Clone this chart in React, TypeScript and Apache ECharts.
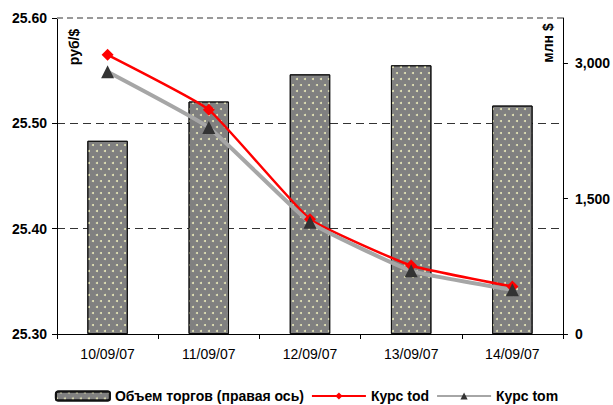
import React, { useEffect, useRef } from "react";
import * as echarts from "echarts";

const categories = ["10/09/07", "11/09/07", "12/09/07", "13/09/07", "14/09/07"];
const volumeValues = [2140, 2575, 2876, 2976, 2530];
const todValues = [25.565, 25.513, 25.409, 25.365, 25.345];
const tomValues = [25.549, 25.496, 25.406, 25.36, 25.342];
const rightTickValues = [0, 1500, 3000];

const seriesNames = ["Объем торгов (правая ось)", "Курс tod", "Курс tom"];

export default function App() {
  const ref = useRef<HTMLDivElement>(null);
  useEffect(() => {
    if (!ref.current) return;
    const chart = echarts.init(ref.current, null, { renderer: "svg" });
    const font = "'Liberation Sans', Arial, sans-serif";
    chart.setOption({
      animation: false,
      textStyle: { fontFamily: font },
      grid: { left: 57, right: 50, top: 18, bottom: 71, containLabel: false },
      legend: {
        top: 389,
        left: "center",
        padding: 0,
        itemWidth: 54,
        itemHeight: 9,
        itemGap: 7,
        textStyle: { fontSize: 14, fontWeight: "bold", color: "#000", fontFamily: font },
        data: seriesNames,
      },
      xAxis: {
        type: "category",
        data: categories,
        boundaryGap: true,
        axisLine: { show: true, lineStyle: { color: "#000", width: 1 } },
        axisTick: { show: true, interval: 0, length: 5, lineStyle: { color: "#000" } },
        axisLabel: { fontSize: 14, color: "#000", margin: 13, fontFamily: font },
      },
      yAxis: [
        {
          type: "value",
          min: 25.3,
          max: 25.6,
          interval: 0.1,
          position: "left",
          axisLine: { show: true, lineStyle: { color: "#000", width: 1 } },
          axisTick: { show: true, length: 5, lineStyle: { color: "#000" } },
          axisLabel: {
            fontSize: 14,
            fontWeight: "bold",
            color: "#000",
            margin: 10,
            fontFamily: font,
            formatter: (v: number) => v.toFixed(2),
          },
          splitLine: {
            show: true,
            lineStyle: { color: ["#333", "#333", "#333", "rgba(0,0,0,0)"], type: [8, 5], width: 1 },
          },
        },
        {
          type: "value",
          min: 0,
          max: 3500,
          interval: 1500,
          position: "right",
          axisLine: { show: true, lineStyle: { color: "#000", width: 1 } },
          axisTick: { show: true, length: 5, customValues: rightTickValues, lineStyle: { color: "#000" } },
          axisLabel: {
            fontSize: 14,
            fontWeight: "bold",
            color: "#000",
            margin: 12,
            fontFamily: font,
            customValues: rightTickValues,
            formatter: (v: number) => v.toLocaleString("en-US"),
          },
          splitLine: { show: false },
        },
      ],
      series: [
        {
          name: seriesNames[0],
          type: "bar",
          yAxisIndex: 1,
          barWidth: "40%",
          data: volumeValues,
          itemStyle: {
            color: "#808080",
            borderColor: "#111",
            borderWidth: 1,
            decal: {
              symbol: "circle",
              symbolSize: 1,
              color: "#e8e8b8",
              dashArrayX: [[2, 6], [0, 4, 2, 2]],
              dashArrayY: [2, 4],
            },
          },
        },
        {
          name: seriesNames[1],
          type: "line",
          yAxisIndex: 0,
          data: todValues,
          smooth: 0.12,
          symbol: "diamond",
          symbolSize: 12,
          itemStyle: { color: "#ff0000" },
          lineStyle: { color: "#ff0000", width: 2.5 },
          markLine: {
            silent: true,
            symbol: "none",
            label: { show: false },
            lineStyle: { color: "#999", type: [6, 4], width: 2 },
            data: [{ yAxis: 25.6 }],
          },
        },
        {
          name: seriesNames[2],
          type: "line",
          yAxisIndex: 0,
          data: tomValues,
          smooth: 0.12,
          symbol: "triangle",
          symbolSize: 13,
          itemStyle: { color: "#333" },
          lineStyle: { color: "#a6a6a6", width: 4 },
        },
      ],
      graphic: [
        {
          type: "text",
          x: 74,
          y: 47,
          rotation: Math.PI / 2,
          style: {
            text: "руб/$",
            fontSize: 14,
            fontWeight: "bold",
            fill: "#000",
            fontFamily: font,
            align: "center",
            verticalAlign: "middle",
          },
        },
        {
          type: "text",
          x: 548,
          y: 43,
          rotation: Math.PI / 2,
          style: {
            text: "млн $",
            fontSize: 14,
            fontWeight: "bold",
            fill: "#000",
            fontFamily: font,
            align: "center",
            verticalAlign: "middle",
          },
        },
      ],
    });
    return () => chart.dispose();
  }, []);
  return (
    <div
      ref={ref}
      style={{ position: "absolute", left: 0, top: 0, width: 613, height: 405, background: "#fff" }}
    />
  );
}
